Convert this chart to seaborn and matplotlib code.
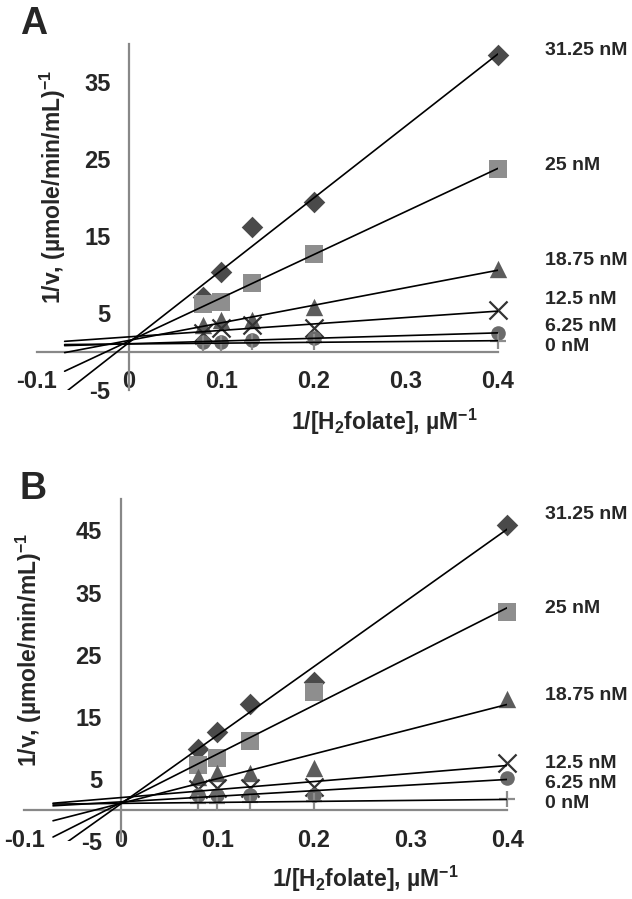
import numpy as np
import matplotlib
matplotlib.use("Agg")
import matplotlib.pyplot as plt
import seaborn as sns

# 1/[H2folate] (uM^-1) for 12.5, 10, 7.5, 5 and 2.5 uM substrate
inv_folate = [0.08, 0.1, 0.1333, 0.2, 0.4]

inhibitor_labels = ["31.25 nM", "25 nM", "18.75 nM", "12.5 nM", "6.25 nM", "0 nM"]

# panel A: 1/v at each inhibitor concentration
a_31_25 = [7.1, 10.4, 16.2, 19.4, 38.5]
a_25 = [6.2, 6.5, 8.9, 12.7, 23.8]
a_18_75 = [3.4, 4.1, 4.1, 5.8, 10.7]
a_12_5 = [2.4, 3.0, 3.4, 3.0, 5.4]
a_6_25 = [1.3, 1.3, 1.5, 1.8, 2.4]
a_0 = [1.0, 1.1, 1.2, 1.2, 1.4]

# panel B
b_31_25 = [9.8, 12.5, 17.1, 20.6, 45.9]
b_25 = [7.2, 8.3, 11.1, 19.0, 31.9]
b_18_75 = [5.3, 5.9, 5.9, 6.7, 17.9]
b_12_5 = [3.4, 3.6, 3.6, 3.7, 7.5]
b_6_25 = [2.4, 2.4, 2.4, 2.4, 5.2]
b_0 = [1.2, 1.2, 1.3, 1.4, 1.7]

# marker look per series (Excel style)
markers = ["D", "s", "^", "x", "o", "+"]
marker_sizes = [11, 12.5, 12.5, 13, 10.5, 12]
marker_colors = ["#4a4a4a", "#8e8e8e", "#5c5c5c", "#333333", "#6a6a6a", "#8c8c8c"]

sns.set_style("white")
plt.rcParams["font.family"] = ["Liberation Sans", "DejaVu Sans"]
plt.rcParams["font.weight"] = "bold"
plt.rcParams["mathtext.fontset"] = "custom"
plt.rcParams["mathtext.rm"] = "Liberation Sans:bold"
plt.rcParams["mathtext.it"] = "Liberation Sans:bold"
plt.rcParams["mathtext.bf"] = "Liberation Sans:bold"

axis_gray = "#888888"


def draw_panel(ax, series, ylim, yticks, label_y, label_x):
    x = np.array(inv_folate)
    # excel trendline, forecast backward by 0.15
    x_fit = np.array([x.min() - 0.15, x.max()])
    for vals, mk, size, col in zip(series, markers, marker_sizes, marker_colors):
        lw = 1.6 if mk in ("x", "+") else 0
        sns.scatterplot(x=inv_folate, y=vals, marker=mk, s=size ** 2, color=col,
                        edgecolor=col, linewidth=lw, ax=ax, zorder=3, legend=False,
                        clip_on=False)
    for vals in series:
        slope, intercept = np.polyfit(x, vals, 1)
        ax.plot(x_fit, slope * x_fit + intercept, color="black", lw=1.2, zorder=4)

    for lab, ly in zip(inhibitor_labels, label_y):
        ax.text(label_x, ly, lab, fontsize=14, fontweight="bold", ha="left",
                va="center", clip_on=False)

    ax.set_xlim(-0.1, 0.4)
    ax.set_ylim(*ylim)
    ax.set_xticks([-0.1, 0, 0.1, 0.2, 0.3, 0.4])
    ax.set_xticklabels(["-0.1", "0", "0.1", "0.2", "0.3", "0.4"])
    ax.set_yticks(yticks)
    ax.set_yticklabels([str(t) for t in yticks])

    ax.spines["left"].set_position(("data", 0))
    ax.spines["bottom"].set_position(("data", 0))
    ax.spines["top"].set_visible(False)
    ax.spines["right"].set_visible(False)
    for side in ("left", "bottom"):
        ax.spines[side].set_color(axis_gray)
        ax.spines[side].set_linewidth(1.6)
    ax.tick_params(direction="out", length=5.5, width=1.3, color=axis_gray,
                   labelsize=17, pad=8)
    ax.set_xlabel(r"1/[H$_2$folate], µM$^{-1}$", fontsize=16.5, fontweight="bold")
    ax.set_ylabel(r"1/v, (µmole/min/mL)$^{-1}$", fontsize=16.5, fontweight="bold")


fig = plt.figure(figsize=(6.32, 8.99), dpi=100)
ax_a = fig.add_axes([0.0585, 0.5662, 0.7294, 0.3849])
ax_b = fig.add_axes([0.038, 0.0644, 0.7649, 0.3802])

draw_panel(ax_a, [a_31_25, a_25, a_18_75, a_12_5, a_6_25, a_0],
           (-5, 40), [-5, 5, 15, 25, 35],
           [39.1, 24.2, 11.9, 6.8, 3.2, 0.6], 0.451)
draw_panel(ax_b, [b_31_25, b_25, b_18_75, b_12_5, b_6_25, b_0],
           (-5, 50), [-5, 5, 15, 25, 35, 45],
           [47.6, 32.5, 18.4, 7.5, 4.3, 1.1], 0.439)

ax_a.xaxis.set_label_coords(0.753, -0.05)
ax_a.yaxis.set_label_coords(0.068, 0.587)
ax_b.xaxis.set_label_coords(0.707, -0.065)
ax_b.yaxis.set_label_coords(0.042, 0.559)

fig.text(20 / 632, 1 - 6 / 899, "A", fontsize=27, fontweight="bold", va="top")
fig.text(20 / 632, 1 - 471 / 899, "B", fontsize=27, fontweight="bold", va="top")

fig.savefig("out.png", dpi=100)
